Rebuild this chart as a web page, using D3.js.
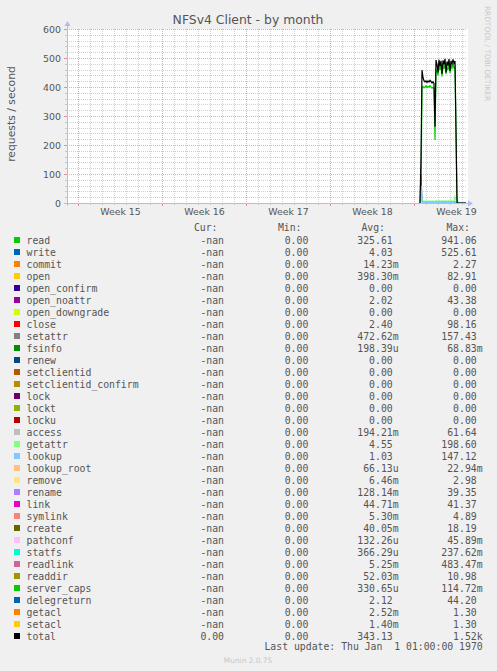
<!DOCTYPE html>
<html><head><meta charset="utf-8">
<script src="https://cdn.jsdelivr.net/npm/d3@7"></script>
<style>
html,body{margin:0;padding:0;background:#F0F0F0;}
svg{display:block;}
</style></head>
<body>
<script>
// ---------- data ----------
const title = "NFSv4 Client - by month";
const yLabel = "requests / second";
const yTicks = [0, 100, 200, 300, 400, 500, 600];
const weekLabels = ["Week 15", "Week 16", "Week 17", "Week 18", "Week 19"];
const weekStartHours = [0, 168, 336, 504, 672];   // hours since Monday of week 15
// sample times (hours since Monday of week 15), 2-hour consolidation
const times = [684,686,688,690,692,694,696,698,700,702,704,706,708,710,712,714,716,718,720,722,724,726,728,730,732,734,736,738,740,742,744,746,748,750,752,754,756,758,760,762,764,766,768,770,772,774,776];
const readVals = [0,30,398,402,397,400,404,398,402,399,405,400,396,399,395,217,460,455,440,480,458,475,436,478,462,483,444,470,458,480,448,475,465,482,466,470,240,15,0,0,0,0,0,0,0,0,0];
const writeVals = [0,97,8,3,4,3,3,4,3,3,4,3,3,4,3,3,4,3,3,4,3,3,4,3,3,4,3,3,4,3,3,4,3,3,4,3,2,0,0,0,0,0,0,0,0,0,0];
const getattrVals = [0,40,9,6,7,6,6,7,6,6,7,6,6,7,6,5,8,7,6,8,7,6,8,7,6,8,7,6,8,7,6,8,7,6,8,22,10,0,0,0,0,0,0,0,0,0,0];
const lookupVals = [0,60,3,2,2,2,2,2,2,2,2,2,2,2,2,1,2,2,2,2,2,2,2,2,2,2,2,2,2,2,2,2,2,2,2,2,1,0,0,0,0,0,0,0,0,0,0];
const totalVals = [0,154,458,432,422,418,421,416,421,417,423,419,414,418,412,263,493,478,450,494,472,490,445,492,478,497,450,488,474,496,455,490,480,495,482,490,250,2,0,0,0,0,0,0,0,0,0];

const legendNames = ["read","write","commit","open","open_confirm","open_noattr","open_downgrade","close","setattr","fsinfo","renew","setclientid","setclientid_confirm","lock","lockt","locku","access","getattr","lookup","lookup_root","remove","rename","link","symlink","create","pathconf","statfs","readlink","readdir","server_caps","delegreturn","getacl","setacl","total"];
const legendColors = ["#00CC00","#0066B3","#FF8000","#FFCC00","#330099","#990099","#CCFF00","#FF0000","#808080","#008F00","#00487D","#B35A00","#B38F00","#6B006B","#8FB300","#B30000","#BEBEBE","#80FF80","#80C9FF","#FFC080","#FFE680","#AA80FF","#EE00CC","#FF8080","#666600","#FFBFFF","#00FFCC","#CC6699","#999900","#00CC00","#0066B3","#FF8000","#FFCC00","#000000"];
const curVals = ["-nan","-nan","-nan","-nan","-nan","-nan","-nan","-nan","-nan","-nan","-nan","-nan","-nan","-nan","-nan","-nan","-nan","-nan","-nan","-nan","-nan","-nan","-nan","-nan","-nan","-nan","-nan","-nan","-nan","-nan","-nan","-nan","-nan","0.00"];
const minVals = ["0.00","0.00","0.00","0.00","0.00","0.00","0.00","0.00","0.00","0.00","0.00","0.00","0.00","0.00","0.00","0.00","0.00","0.00","0.00","0.00","0.00","0.00","0.00","0.00","0.00","0.00","0.00","0.00","0.00","0.00","0.00","0.00","0.00","0.00"];
const avgVals = ["325.61","4.03","14.23m","398.30m","0.00","2.02","0.00","2.40","472.62m","198.39u","0.00","0.00","0.00","0.00","0.00","0.00","194.21m","4.55","1.03","66.13u","6.46m","128.14m","44.71m","5.30m","40.05m","132.26u","366.29u","5.25m","52.03m","330.65u","2.12","2.52m","1.40m","343.13"];
const maxVals = ["941.06","525.61","2.27","82.91","0.00","43.38","0.00","98.16","157.43","68.83m","0.00","0.00","0.00","0.00","0.00","0.00","61.64","198.60","147.12","22.94m","2.98","39.35","41.37","4.89","18.19","45.89m","237.62m","483.47m","10.98","114.72m","44.20","1.30","1.30","1.52k"];
const lastUpdate = "Last update: Thu Jan  1 01:00:00 1970";
const footer = "Munin 2.0.75";
const watermark = "RRDTOOL / TOBI OETIKER";

const drawn = [
  {name:"read", vals: readVals},
  {name:"write", vals: writeVals},
  {name:"getattr", vals: getattrVals},
  {name:"lookup", vals: lookupVals},
  {name:"total", vals: totalVals}
];

// ---------- layout ----------
const W = 497, H = 671;
const L = 67, R = 467, T = 29, B = 203;
const svg = d3.select("body").append("svg").attr("width", W).attr("height", H);
svg.append("rect").attr("width", W).attr("height", H).attr("fill", "#F0F0F0");

const x = d3.scaleLinear().domain([-22, 778]).range([L, R]);
const y = d3.scaleLinear().domain([0, 600]).range([B, T]);

const sans = "DejaVu Sans, Verdana, sans-serif";
const mono = "DejaVu Sans Mono, monospace";
const textCol = "#555";

// plot background
svg.append("rect").attr("x", L).attr("y", T).attr("width", R - L + 1).attr("height", B - T).attr("fill", "#FFFFFF");

// grid
const grid = svg.append("g").attr("shape-rendering", "crispEdges");
const minorY = d3.range(0, 601, 20).filter(v => v % 100 !== 0);
grid.selectAll(".hmin").data(minorY).join("line")
  .attr("x1", L).attr("x2", R).attr("y1", d => Math.round(y(d)) + 0.5).attr("y2", d => Math.round(y(d)) + 0.5)
  .attr("stroke", "#D0D0D0").attr("stroke-dasharray", "1,1");
const dayHours = d3.range(0, 778, 24).filter(h => weekStartHours.indexOf(h) < 0);
grid.selectAll(".vmin").data(dayHours).join("line")
  .attr("x1", d => Math.round(x(d)) + 0.5).attr("x2", d => Math.round(x(d)) + 0.5).attr("y1", T).attr("y2", B)
  .attr("stroke", "#D0D0D0").attr("stroke-dasharray", "1,1");
grid.selectAll(".hmaj").data(yTicks.filter(v => v > 0)).join("line")
  .attr("x1", L).attr("x2", R).attr("y1", d => Math.round(y(d)) + 0.5).attr("y2", d => Math.round(y(d)) + 0.5)
  .attr("stroke", "#F0A8A8").attr("stroke-dasharray", "1,1");
grid.selectAll(".vmaj").data(weekStartHours).join("line")
  .attr("x1", d => Math.round(x(d)) + 0.5).attr("x2", d => Math.round(x(d)) + 0.5).attr("y1", T).attr("y2", B)
  .attr("stroke", "#F0A8A8").attr("stroke-dasharray", "1,1");

// tick marks outside plot
grid.selectAll(".ytm").data(minorY).join("line")
  .attr("x1", L - 2).attr("x2", L).attr("y1", d => Math.round(y(d)) + 0.5).attr("y2", d => Math.round(y(d)) + 0.5)
  .attr("stroke", "#C8C8C8");
grid.selectAll(".ytM").data(yTicks).join("line")
  .attr("x1", L - 3).attr("x2", L).attr("y1", d => Math.round(y(d)) + 0.5).attr("y2", d => Math.round(y(d)) + 0.5)
  .attr("stroke", "#E09090");
grid.selectAll(".xtm").data(dayHours).join("line")
  .attr("x1", d => Math.round(x(d)) + 0.5).attr("x2", d => Math.round(x(d)) + 0.5).attr("y1", B).attr("y2", B + 2)
  .attr("stroke", "#C8C8C8");
grid.selectAll(".xtM").data(weekStartHours).join("line")
  .attr("x1", d => Math.round(x(d)) + 0.5).attr("x2", d => Math.round(x(d)) + 0.5).attr("y1", B).attr("y2", B + 3)
  .attr("stroke", "#E09090");

// data lines
const line = d3.line().defined(d => d[1] != null).x(d => x(d[0])).y(d => y(d[1]));
drawn.forEach(s => {
  const col = legendColors[legendNames.indexOf(s.name)];
  svg.append("path").datum(times.map((t, i) => [t, s.vals[i]]))
    .attr("d", line).attr("fill", "none").attr("stroke", col).attr("stroke-width", 1.2)
    .attr("stroke-linejoin", "miter");
});

// axes lines + arrows
const axisCol = "#B8B8F0";
svg.append("line").attr("x1", L + 0.5).attr("x2", L + 0.5).attr("y1", B + 3).attr("y2", T - 5).attr("stroke", axisCol);
svg.append("line").attr("x1", L - 3).attr("x2", R + 2).attr("y1", B + 0.5).attr("y2", B + 0.5).attr("stroke", axisCol);
svg.append("path").attr("d", `M${L - 2.5},${T - 3} L${L + 3.5},${T - 3} L${L + 0.5},${T - 8} Z`).attr("fill", axisCol);
svg.append("path").attr("d", `M${R + 1},${B - 2.5} L${R + 1},${B + 3.5} L${R + 6},${B + 0.5} Z`).attr("fill", axisCol);

// y tick labels (via d3 axis, then restyled)
const yAxis = svg.append("g").attr("transform", `translate(${L - 6},0)`)
  .call(d3.axisLeft(y).tickValues(yTicks).tickSize(0).tickPadding(0).tickFormat(d3.format("d")));
yAxis.select(".domain").remove();
yAxis.selectAll("text").attr("font-family", sans).attr("font-size", 9.4).attr("fill", textCol).attr("dy", "0.35em");

// x labels
const xAxis = svg.append("g").attr("transform", `translate(0,${B + 4})`)
  .call(d3.axisBottom(x).tickValues(weekStartHours.map(h => h + 84)).tickSize(0).tickPadding(0)
    .tickFormat((d, i) => weekLabels[i]));
xAxis.select(".domain").remove();
xAxis.selectAll("text").attr("font-family", sans).attr("font-size", 9.4).attr("fill", textCol).attr("dy", "0.9em");

// title
svg.append("text").attr("x", 248).attr("y", 23.5).attr("text-anchor", "middle")
  .attr("font-family", sans).attr("font-size", 12.4).attr("fill", textCol).text(title);
// y label
svg.append("text").attr("transform", "translate(15,114) rotate(-90)").attr("text-anchor", "middle")
  .attr("font-family", sans).attr("font-size", 10.8).attr("fill", textCol).text(yLabel);
// watermark
svg.append("text").attr("transform", "translate(485,53.5) rotate(90)").attr("text-anchor", "middle")
  .attr("font-family", sans).attr("font-size", 7.4).attr("fill", "#C8C8C8").text(watermark);

// legend
const fs = 9.8;
const hdrY = 230.5;
const headers = [["Cur:", 217.5], ["Min:", 301.5], ["Avg:", 385], ["Max:", 470]];
headers.forEach(h => svg.append("text").attr("x", h[1]).attr("y", hdrY).attr("text-anchor", "end")
  .attr("font-family", mono).attr("font-size", fs).attr("fill", textCol).text(h[0]));

function splitVal(s) {
  const m = s.match(/^(.*?)([munkM]?)$/);
  return [m[1], m[2]];
}
const rows = svg.append("g");
legendNames.forEach((n, i) => {
  const cy = 240 + 12 * i;
  const g = rows.append("g");
  g.append("rect").attr("x", 14).attr("y", cy - 3).attr("width", 6).attr("height", 6).attr("fill", legendColors[i]);
  const base = cy + 3.5;
  g.append("text").attr("x", 26.5).attr("y", base).attr("font-family", mono).attr("font-size", fs).attr("fill", textCol).text(n);
  g.append("text").attr("x", 224).attr("y", base).attr("text-anchor", "end").attr("font-family", mono).attr("font-size", fs).attr("fill", textCol).text(curVals[i]);
  g.append("text").attr("x", 308.3).attr("y", base).attr("text-anchor", "end").attr("font-family", mono).attr("font-size", fs).attr("fill", textCol).text(minVals[i]);
  [[avgVals[i], 392.7], [maxVals[i], 476.7]].forEach(([v, xr]) => {
    const [num, suf] = splitVal(v);
    g.append("text").attr("x", xr).attr("y", base).attr("text-anchor", "end").attr("font-family", mono).attr("font-size", fs).attr("fill", textCol).text(num);
    if (suf) g.append("text").attr("x", xr).attr("y", base).attr("font-family", mono).attr("font-size", fs).attr("fill", textCol).text(suf);
  });
});

svg.append("text").attr("x", 482.7).attr("y", 650.2).attr("text-anchor", "end").style("white-space", "pre")
  .attr("font-family", mono).attr("font-size", fs).attr("fill", textCol).text(lastUpdate);
svg.append("text").attr("x", 248).attr("y", 663.3).attr("text-anchor", "middle")
  .attr("font-family", sans).attr("font-size", 7.4).attr("fill", "#C8C8C8").text(footer);
</script>
</body></html>
